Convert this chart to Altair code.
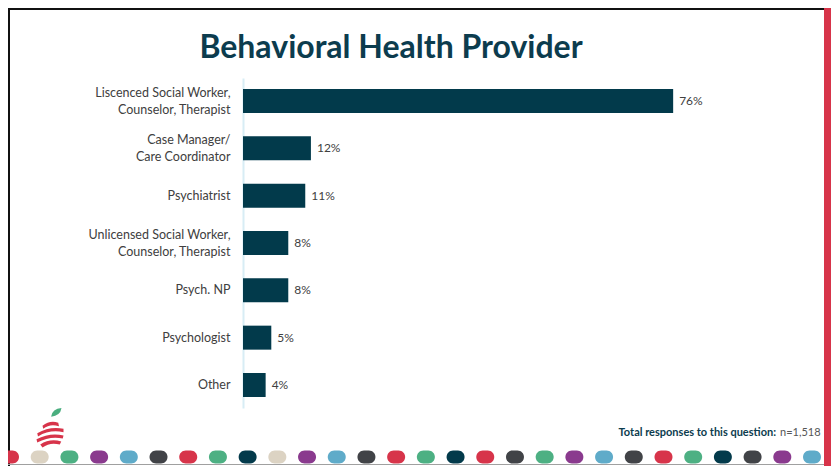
import altair as alt
import pandas as pd

# ---------------- data ----------------
title_text = "Behavioral Health Provider"
categories = [
    "Liscenced Social Worker,|Counselor, Therapist",
    "Case Manager/|Care Coordinator",
    "Psychiatrist",
    "Unlicensed Social Worker,|Counselor, Therapist",
    "Psych. NP",
    "Psychologist",
    "Other",
]
values = [0.76, 0.12, 0.11, 0.08, 0.08, 0.05, 0.04]
footnote_label = "Total responses to this question:"
footnote_n = "n=1,518"
dot_colors = [
    "#d7344a", "#dcd3c3", "#4db083", "#8a3a8e", "#5fabc9", "#414347", "#d7344a",
    "#4db083", "#033a4b", "#dcd3c3", "#8a3a8e", "#5fabc9", "#414347", "#d7344a",
    "#4db083", "#033a4b", "#d7344a", "#414347", "#4db083", "#8a3a8e", "#5fabc9",
    "#414347", "#d7344a", "#4db083", "#033a4b", "#414347", "#8a3a8e", "#5fabc9",
]

# ---------------- layout ----------------
W, H = 566, 330
PADL, PADT = 235, 70
TOTAL_W, TOTAL_H = 823, 458
PADR = TOTAL_W - PADL - W
PADB = TOTAL_H - PADT - H
RIGHT = TOTAL_W - PADL       # right edge in plot coords
BOTTOM = TOTAL_H - PADT      # bottom edge in plot coords

df = pd.DataFrame({"category": categories, "value": values})
dots = pd.DataFrame({"i": list(range(len(dot_colors))), "c": dot_colors})
one = pd.DataFrame({"t": [title_text]})

x_enc = alt.X("value:Q", scale=alt.Scale(domain=[0, 1], nice=False), axis=None)
y_enc = alt.Y(
    "category:N",
    sort=categories,
    scale=alt.Scale(paddingInner=0.493, paddingOuter=0.233),
    axis=alt.Axis(
        title=None,
        labelExpr="split(datum.label, '|')",
        labelOffset={"condition": {"test": "indexof(datum.value, '|') >= 0", "value": -8},
                     "value": 0},
        domainColor="#d8edf5",
        domainWidth=2,
        ticks=False,
        grid=False,
        labelPadding=13,
        labelFont="Lato",
        labelFontSize=12.5,
        labelColor="#404040",
        labelLineHeight=16.5,
    ),
)

bars = alt.Chart(df).mark_bar(color="#023a4b").encode(x=x_enc, y=y_enc)
labels = alt.Chart(df).mark_text(
    align="left", dx=6, font="Lato", fontSize=12, color="#404040"
).encode(x=x_enc, y=alt.Y("category:N", sort=categories),
         text=alt.Text("value:Q", format=".0%"))

PILL = ("M-0.25,-0.65 L0.25,-0.65 A0.65,0.65 0 0 1 0.25,0.65 "
        "L-0.25,0.65 A0.65,0.65 0 0 1 -0.25,-0.65 Z")
dot_layer = alt.Chart(dots).mark_point(
    shape=PILL, size=400, filled=True, opacity=1, strokeWidth=0
).encode(
    x=alt.X("i:Q", scale=alt.Scale(domain=[0, len(dot_colors) - 1],
                                   range=[-233, 569]), axis=None),
    y=alt.value(379),
    color=alt.Color("c:N", scale=None),
)

title = alt.Chart(one).mark_text(
    font="Lato", fontSize=32, fontWeight="bold", color="#0c3c4e",
    align="center", baseline="alphabetic"
).encode(x=alt.value(148), y=alt.value(-20), text="t:N")

foot_bold = alt.Chart(pd.DataFrame({"t": [footnote_label]})).mark_text(
    font="Lato", fontSize=11, fontWeight="bold", color="#0c3c4e",
    align="right", baseline="middle"
).encode(x=alt.value(533), y=alt.value(355), text="t:N")
foot_n = alt.Chart(pd.DataFrame({"t": [footnote_n]})).mark_text(
    font="Lato", fontSize=11, color="#555555", align="left", baseline="middle"
).encode(x=alt.value(537), y=alt.value(355), text="t:N")

def rect(x1, x2, y1, y2, color):
    return alt.Chart(one).mark_rect(color=color).encode(
        x=alt.value(x1), x2=alt.value(x2), y=alt.value(y1), y2=alt.value(y2))

border_top = rect(-PADL, RIGHT - 7, -PADT, -PADT + 2, "#111111")
border_left = rect(-PADL, -PADL + 2, -PADT, BOTTOM, "#111111")
border_bottom = rect(-PADL, RIGHT - 7, BOTTOM - 2, BOTTOM - 1, "#a0a0a0")
red_strip = rect(RIGHT - 7, RIGHT, -PADT, BOTTOM, "#d7344a")

LEAF = "M-0.8,0.6 Q-0.6,-0.7 0.9,-0.8 Q0.7,0.5 -0.8,0.6 Z"
SWIRL = ("M-0.5,-0.55 Q0,-0.95 0.55,-0.75 L0.6,-0.52 Q0,-0.72 -0.45,-0.35 Z "
         "M-0.85,-0.05 Q0,-0.55 0.9,-0.35 L0.9,-0.12 Q0,-0.32 -0.8,0.16 Z "
         "M-0.9,0.35 Q0,-0.12 0.9,0.1 L0.85,0.3 Q0,0.12 -0.85,0.56 Z "
         "M-0.65,0.7 Q0,0.28 0.75,0.5 L0.65,0.7 Q0,0.52 -0.5,0.9 Z")
leaf = alt.Chart(one).mark_point(
    shape=LEAF, size=150, filled=True, opacity=1, color="#4aae7f", strokeWidth=0
).encode(x=alt.value(-187), y=alt.value(335))
swirl = alt.Chart(one).mark_point(
    shape=SWIRL, size=900, filled=True, opacity=1, color="#d7344a", strokeWidth=0
).encode(x=alt.value(-193), y=alt.value(356))

chart = alt.layer(
    border_top, border_left, border_bottom, red_strip,
    bars, labels, title, foot_bold, foot_n, leaf, swirl, dot_layer,
).resolve_scale(x="independent").properties(
    width=W, height=H,
    autosize=alt.AutoSizeParams(type="none"),
    padding={"left": PADL, "top": PADT, "right": PADR, "bottom": PADB},
    background="white",
).configure_view(stroke=None)

chart.save("out.html", embed_options={"renderer": "svg", "actions": False})
